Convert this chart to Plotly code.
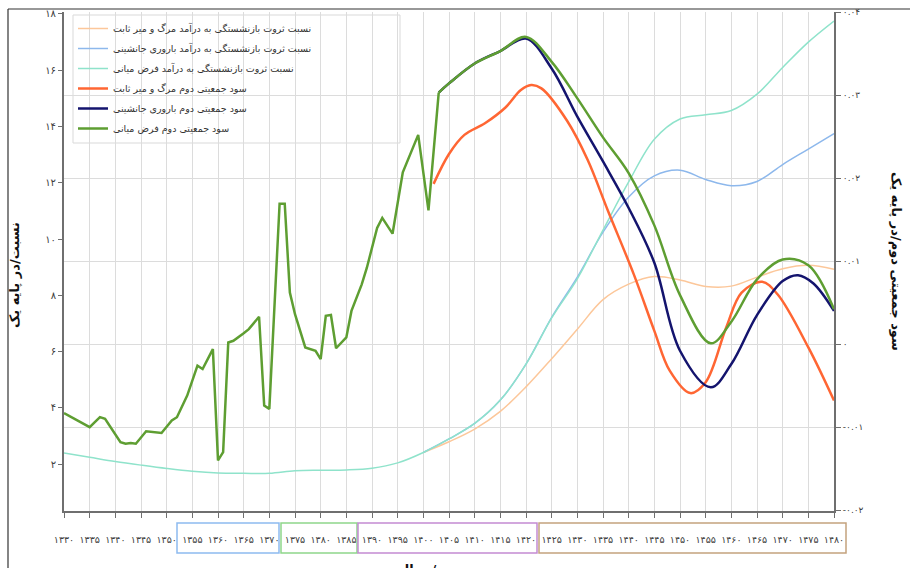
import plotly.graph_objects as go

# ---------------- data ----------------
hist_years = [1330, 1335, 1337, 1338, 1341, 1342, 1343, 1344, 1346, 1349, 1351, 1352,
              1354, 1356, 1357, 1359, 1360, 1361, 1362, 1363, 1365, 1366, 1368, 1369,
              1370, 1372, 1373, 1374, 1375, 1377, 1379, 1380, 1381, 1382, 1383, 1385,
              1386, 1388, 1389, 1391, 1392, 1394, 1396, 1399, 1401, 1403]
hist_green = [-0.0083, -0.0100, -0.0088, -0.0090, -0.0118, -0.0120, -0.0119, -0.0120,
              -0.0105, -0.0107, -0.0092, -0.0088, -0.0062, -0.0026, -0.0030, -0.0006,
              -0.0140, -0.0130, 0.0002, 0.0004, 0.0013, 0.0018, 0.0033, -0.0074,
              -0.0078, 0.0169, 0.0169, 0.0062, 0.0036, -0.0004, -0.0008, -0.0018,
              0.0034, 0.0035, -0.0005, 0.0008, 0.0040, 0.0072, 0.0092, 0.0140,
              0.0152, 0.0133, 0.0207, 0.0252, 0.0161, 0.0303]

green_years = [1403, 1405, 1410, 1415, 1420, 1425, 1430, 1435, 1440, 1445, 1450, 1456,
               1460, 1465, 1470, 1475, 1480]
green_vals = [0.0303, 0.0314, 0.0338, 0.0353, 0.0370, 0.0340, 0.0296, 0.0249, 0.0206,
              0.0143, 0.0059, 0.0001, 0.0027, 0.0078, 0.0102, 0.0095, 0.0042]

navy_years = [1403, 1405, 1410, 1415, 1420, 1425, 1430, 1435, 1440, 1445, 1450, 1456,
              1460, 1465, 1470, 1473, 1476, 1480]
navy_vals = [0.0303, 0.0314, 0.0338, 0.0353, 0.0368, 0.0332, 0.0274, 0.0220, 0.0164,
             0.0098, -0.0008, -0.0052, -0.0024, 0.0035, 0.0076, 0.0083, 0.0073, 0.0040]

orange_years = [1402, 1405, 1408, 1412, 1416, 1419, 1421, 1423, 1428, 1432, 1436, 1441,
                1445, 1448, 1452, 1455, 1459, 1462, 1466, 1469, 1475, 1480]
orange_vals = [0.0193, 0.0229, 0.0252, 0.0266, 0.0285, 0.0306, 0.0312, 0.0308, 0.0269,
               0.0222, 0.0160, 0.0084, 0.0016, -0.0032, -0.0059, -0.0046, 0.0020,
               0.0062, 0.0075, 0.0060, -0.0004, -0.0068]

cyan_years = list(range(1330, 1481, 5))
cyan_vals = [2.40, 2.25, 2.10, 1.97, 1.85, 1.75, 1.69, 1.68, 1.68, 1.77, 1.79, 1.80,
             1.86, 2.05, 2.42, 2.90, 3.45, 4.28, 5.56, 7.20, 8.59, 10.32, 12.03, 13.55,
             14.27, 14.42, 14.57, 15.15, 16.10, 17.00, 17.75]

proj_years = list(range(1400, 1481, 5))
blue_vals = [2.42, 2.90, 3.45, 4.28, 5.56, 7.22, 8.65, 10.25, 11.50, 12.25, 12.45,
             12.12, 11.90, 12.05, 12.65, 13.20, 13.75]
peach_vals = [2.42, 2.80, 3.25, 3.88, 4.75, 5.75, 6.80, 7.85, 8.40, 8.67, 8.55, 8.32,
              8.33, 8.65, 8.95, 9.07, 8.93]

names = [
    "نسبت ثروت بازنشستگی به درآمد مرگ و میر ثابت",
    "نسبت ثروت بازنشستگی به درآمد باروری جانشینی",
    "نسبت ثروت بازنشستگی به درآمد فرض میانی",
    "سود جمعیتی دوم مرگ و میر ثابت",
    "سود جمعیتی دوم باروری جانشینی",
    "سود جمعیتی دوم فرض میانی",
]

x_ticks = list(range(1330, 1481, 5))
left_ticks = [2, 4, 6, 8, 10, 12, 14, 16, 18]
right_ticks = [-0.02, -0.01, 0, 0.01, 0.02, 0.03, 0.04]
right_labels = ["-۰.۰۲", "-۰.۰۱", "۰", "۰.۰۱", "۰.۰۲", "۰.۰۳", "۰.۰۴"]

FA = str.maketrans("0123456789", "۰۱۲۳۴۵۶۷۸۹")
x_labels = [str(v).translate(FA) for v in x_ticks]
left_labels = [str(v).translate(FA) for v in left_ticks]

FONT = "DejaVu Sans"
c_peach, c_blue, c_cyan = "#FCC79A", "#8DB8EC", "#8FE3CB"
c_orange, c_navy, c_green = "#FF6633", "#14146E", "#5E9E32"

fig = go.Figure()
fig.add_trace(go.Scatter(x=proj_years, y=peach_vals, name=names[0], mode="lines",
                         line=dict(color=c_peach, width=1.5, shape="spline"),
                         legendgroup="g1"))
fig.add_trace(go.Scatter(x=proj_years, y=blue_vals, name=names[1], mode="lines",
                         line=dict(color=c_blue, width=1.5, shape="spline"),
                         legendgroup="g2"))
fig.add_trace(go.Scatter(x=cyan_years, y=cyan_vals, name=names[2], mode="lines",
                         line=dict(color=c_cyan, width=1.5, shape="spline"),
                         legendgroup="g3"))
fig.add_trace(go.Scatter(x=orange_years, y=orange_vals, name=names[3], mode="lines",
                         line=dict(color=c_orange, width=2.5, shape="spline"),
                         legendgroup="g4", yaxis="y2"))
fig.add_trace(go.Scatter(x=navy_years, y=navy_vals, name=names[4], mode="lines",
                         line=dict(color=c_navy, width=2.5, shape="spline"),
                         legendgroup="g5", yaxis="y2"))
fig.add_trace(go.Scatter(x=hist_years, y=hist_green, name=names[5], mode="lines",
                         line=dict(color=c_green, width=2.5),
                         legendgroup="g6", showlegend=False, yaxis="y2"))
fig.add_trace(go.Scatter(x=green_years, y=green_vals, name=names[5], mode="lines",
                         line=dict(color=c_green, width=2.5, shape="spline"),
                         legendgroup="g6", yaxis="y2"))

# px -> paper helpers for layout positions
L, R, T, B = 64, 834, 12, 511
def px(xp):
    return (xp - L) / (R - L)
def py(yp):
    return (B - yp) / (B - T)

shapes = [
    # legend box
    dict(type="rect", xref="paper", yref="paper", x0=px(73), x1=px(400), y0=py(143), y1=py(15),
         fillcolor="white", line=dict(color="#d9d9d9", width=1), layer="between"),
    # outer frame (left + top)
    dict(type="line", xref="paper", yref="paper", x0=px(8), x1=px(8), y0=py(600), y1=py(9),
         line=dict(color="#333333", width=1.2)),
    dict(type="line", xref="paper", yref="paper", x0=px(8), x1=px(960), y0=py(9), y1=py(9),
         line=dict(color="#333333", width=1.2)),
]
# coloured boxes around tick-label groups
for xa, xb, col in [(177, 279, "#8DBAF0"), (281, 357, "#8FD68A"),
                    (358, 537, "#C48BD2"), (539, 846, "#C4A27E")]:
    shapes.append(dict(type="rect", xref="paper", yref="paper", x0=px(xa), x1=px(xb),
                       y0=py(553), y1=py(523), line=dict(color=col, width=1.5),
                       fillcolor="rgba(0,0,0,0)"))

annotations = [
    dict(text="<b>نسبت/در پایه یک</b>", xref="paper", yref="paper", x=px(14), y=py(275),
         xanchor="center", textangle=-90, showarrow=False,
         font=dict(family=FONT, size=13, color="#111111")),
    dict(text="<b>سود جمعیتی دوم/در پایه یک</b>", xref="paper", yref="paper", x=px(896),
         y=py(262), xanchor="center", textangle=90, showarrow=False,
         font=dict(family=FONT, size=13, color="#111111")),
    dict(text="<b>دوره/ سال</b>", xref="paper", yref="paper", x=px(432), y=py(560),
         yanchor="top", showarrow=False, font=dict(family=FONT, size=13, color="#111111")),
]

fig.update_layout(
    width=910, height=568,
    margin=dict(l=L, r=910 - R, t=T, b=568 - B, autoexpand=False),
    paper_bgcolor="white", plot_bgcolor="white",
    font=dict(family=FONT, color="#404040"),
    showlegend=True,
    legend=dict(x=px(73), y=py(14), xanchor="left", yanchor="top",
                bgcolor="rgba(0,0,0,0)", borderwidth=0, tracegroupgap=1,
                font=dict(family=FONT, size=9.5, color="#333333")),
    xaxis=dict(range=[1330, 1480], tickvals=x_ticks, ticktext=x_labels,
               tickfont=dict(family=FONT, size=9.5, color="#404040"),
               showgrid=True, gridcolor="#dcdcdc", gridwidth=1,
               showline=True, linecolor="#6f6f6f", linewidth=2,
               ticks="outside", ticklen=5, tickcolor="#6f6f6f", tickangle=0,
               ticklabelstandoff=14, zeroline=False),
    yaxis=dict(range=[0.34, 18.07], tickvals=left_ticks, ticktext=left_labels,
               tickfont=dict(family=FONT, size=10, color="#404040"),
               showgrid=False, showline=True, linecolor="#6f6f6f", linewidth=2,
               ticks="outside", ticklen=4, tickcolor="#6f6f6f", zeroline=False),
    yaxis2=dict(range=[-0.0201, 0.04], tickvals=right_ticks, ticktext=right_labels,
                overlaying="y", side="right",
                tickfont=dict(family=FONT, size=9, color="#404040"),
                showgrid=True, gridcolor="#dcdcdc", gridwidth=1,
                showline=True, linecolor="#6f6f6f", linewidth=2,
                ticks="outside", ticklen=5, tickcolor="#6f6f6f", zeroline=False),
    shapes=shapes,
    annotations=annotations,
)

fig.write_html("out.html", config={"displayModeBar": False},
               post_script="document.body.style.margin='0px';")
